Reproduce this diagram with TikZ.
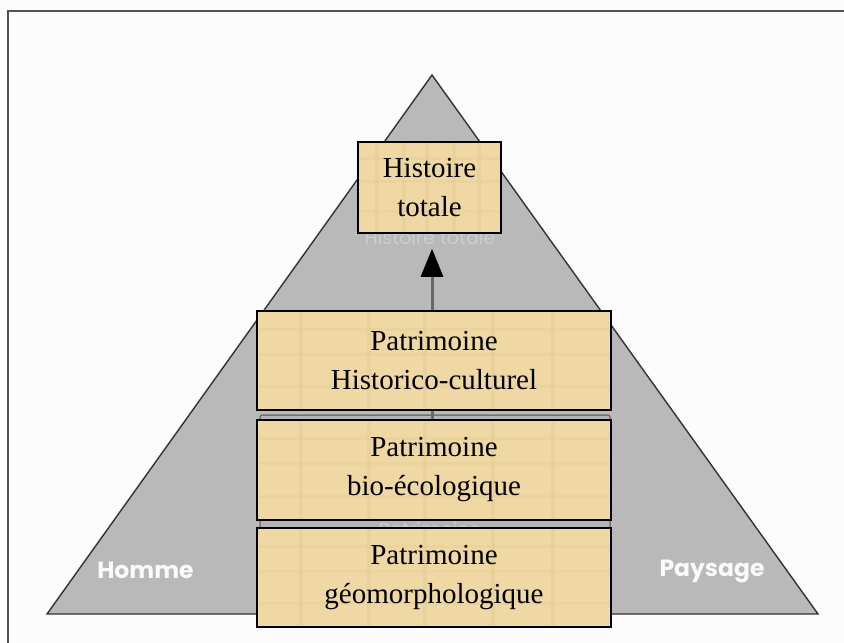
\documentclass[tikz,border=0pt]{standalone}
\usepackage{fontspec}
\setmainfont{Liberation Serif}
\newfontfamily\labelfont{Poppins}
\usetikzlibrary{arrows.meta,calc}

\definecolor{pagebg}{HTML}{FCFCFC}
\definecolor{pyramid}{HTML}{B9B9B9}
\definecolor{edge}{HTML}{333333}
\definecolor{papyrus}{HTML}{EFD8A4}
\definecolor{papyrusdark}{HTML}{E2C98F}
\definecolor{ghost}{HTML}{CDCDCD}
\definecolor{layergrey}{HTML}{B4B4B4}
\definecolor{shaft}{HTML}{686868}

\begin{document}
\begin{tikzpicture}[x=1pt,y=-1pt,
  layerbox/.style={draw=black, line width=1.5pt, fill=papyrus, align=center,
    inner sep=0pt, minimum width=354pt,
    font=\fontsize{29}{39}\selectfont,
    path picture={
      \foreach \k in {0.12,0.31,0.47,0.66,0.83}{
        \fill[papyrusdark, opacity=0.35]
          ($(path picture bounding box.south west)!\k!(path picture bounding box.south east)$)
          rectangle ++(4pt,200pt);}
      \foreach \k in {0.22,0.55,0.8}{
        \fill[papyrusdark, opacity=0.3]
          ($(path picture bounding box.south west)!\k!(path picture bounding box.north west)$)
          rectangle ++(400pt,3pt);}
    }},
  sidelabel/.style={font=\labelfont\bfseries\fontsize{23.5}{23.5}\selectfont,
    text=white!96!gray, anchor=base, inner sep=0pt},
  ghosttext/.style={font=\labelfont\fontsize{19}{19}\selectfont,
    text=ghost, anchor=base, inner sep=0pt},
]
% page and frame
\fill[pagebg] (0,0) rectangle (844,643);
\useasboundingbox (0,0) rectangle (844,643);
\draw[edge!85, line width=2pt] (8,643) -- (8,11) -- (844,11);

% pyramid
\draw[fill=pyramid, draw=edge, line width=1.4pt, line join=miter]
  (432,75) -- (818,614) -- (47,614) -- cycle;

\node[sidelabel] (homme) at (145.5,578) {Homme};
\node[sidelabel] (paysage) at (712,576) {Paysage};

% grey layer behind the lower boxes
\draw[fill=layergrey, draw=gray!90!black, line width=1.5pt, rounded corners=2pt]
  (260,415) rectangle (610,614);

% faint underlying captions
\node[ghosttext] (ghosttop) at (430,244) {Histoire totale};
\node[ghosttext] (ghostlow) at (430,536) {Patrimoine};

% arrow towards the top box
\coordinate (tail) at (432,420);
\node[layerbox, minimum width=143pt, minimum height=91pt] (top) at (429.5,187.5)
  {Histoire\\totale};
\draw[shaft, line width=3pt, shorten >=15pt,
  -{Triangle[width=22pt,length=28pt,color=black]}]
  (tail) -- (tail |- top.south);

% stacked boxes
\node[layerbox, minimum height=99pt] (hist) at (434,360.5)
  {Patrimoine\\Historico-culturel};
\node[layerbox, minimum height=100pt] (bio) at (434,470)
  {Patrimoine\\bio-écologique};
\node[layerbox, minimum height=99pt] (geo) at (434,577.5)
  {Patrimoine\\géomorphologique};
\end{tikzpicture}
\end{document}
